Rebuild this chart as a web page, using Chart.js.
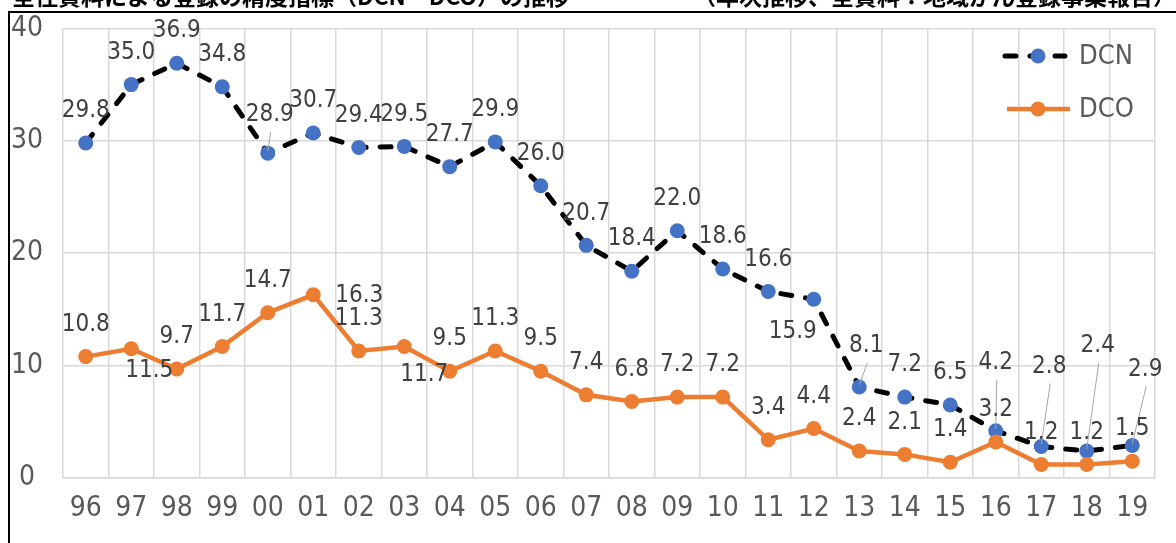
<!DOCTYPE html>
<html><head><meta charset="utf-8">
<script src="https://cdn.jsdelivr.net/npm/chart.js@4/dist/chart.umd.min.js"></script>
<style>html,body{margin:0;padding:0;background:#fff;overflow:hidden}#wrap{width:1176px;height:543px;position:relative}</style>
</head><body><div id="wrap"><canvas id="c" width="1176" height="543"></canvas></div>
<script>
// ---- data ----
const years = ['96','97','98','99','00','01','02','03','04','05','06','07','08','09','10','11','12','13','14','15','16','17','18','19'];
const dcn = [29.8,35.0,36.9,34.8,28.9,30.7,29.4,29.5,27.7,29.9,26.0,20.7,18.4,22.0,18.6,16.6,15.9,8.1,7.2,6.5,4.2,2.8,2.4,2.9];
const dco = [10.8,11.5,9.7,11.7,14.7,16.3,11.3,11.7,9.5,11.3,9.5,7.4,6.8,7.2,7.2,3.4,4.4,2.4,2.1,1.4,3.2,1.2,1.2,1.5];
const yTicks = [0,10,20,30,40];
const seriesNames = ['DCN','DCO'];
const titleLeft = '全住資料による登録の精度指標（DCN・DCO）の推移';
const titleRight = '（年次推移、全資料：地域がん登録事業報告）';

// ---- label placement (pixel shifts from the point, by category index; default above) ----
const defaultShift = [0,-33,false];
const dcnShift = {4:[2,-39,true],16:[-21,31,false],17:[7,-42,true],20:[0,-69,true],21:[8,-81,true],22:[11,-106,true],23:[13,-77,true]};
const dcoShift = {1:[18,21,false],5:[46,0,false],7:[20,27,false]};

const FONT = '"DejaVu Sans Condensed","Liberation Sans Narrow","Noto Sans",sans-serif';
const BLUE = '#4472C4', ORANGE = '#ED7D31';

const extras = {
  id:'extras',
  afterDatasetsDraw(chart){
    const ctx = chart.ctx;
    ctx.save();
    ctx.font = '24px ' + FONT;
    ctx.textAlign = 'center';
    ctx.textBaseline = 'middle';
    [[0,dcn,dcnShift],[1,dco,dcoShift]].forEach(([di,vals,shifts])=>{
      const meta = chart.getDatasetMeta(di);
      meta.data.forEach((pt,j)=>{
        const s = shifts[j] || defaultShift;
        const lx = pt.x + s[0], ly = pt.y + s[1];
        if (s[2]) {
          ctx.strokeStyle = '#a6a6a6'; ctx.lineWidth = 1;
          ctx.beginPath(); ctx.moveTo(lx+1, ly+18); ctx.lineTo(pt.x, pt.y-2); ctx.stroke();
        }
        ctx.fillStyle = '#404040';
        ctx.fillText(vals[j].toFixed(1), lx, ly+1);
      });
    });
    ctx.restore();
  },
  afterDraw(chart){
    const ctx = chart.ctx;
    ctx.save();
    // legend
    const items = [
      {name:seriesNames[0], y:56, x0:1003, x1:1067, color:'#000', width:5, dash:[11,14], dot:BLUE},
      {name:seriesNames[1], y:109, x0:1005, x1:1072, color:ORANGE, width:4.5, dash:[], dot:ORANGE}
    ];
    items.forEach(it=>{
      ctx.strokeStyle = it.color; ctx.lineWidth = it.width; ctx.setLineDash(it.dash);
      ctx.lineCap = it.dash.length ? 'round':'butt';
      ctx.beginPath(); ctx.moveTo(it.x0+2, it.y); ctx.lineTo(it.x1-2, it.y); ctx.stroke();
      ctx.setLineDash([]);
      ctx.fillStyle = it.dot; ctx.beginPath(); ctx.arc(1038, it.y, 7.5, 0, Math.PI*2); ctx.fill();
      ctx.fillStyle = '#595959'; ctx.font = '27px ' + FONT; ctx.textAlign='left'; ctx.textBaseline='middle';
      ctx.fillText(it.name, 1079, it.y+1);
    });
    // frame
    ctx.strokeStyle = '#000'; ctx.lineWidth = 2;
    ctx.beginPath(); ctx.moveTo(9,543); ctx.lineTo(9,12); ctx.lineTo(1176,12); ctx.stroke();
    // clipped title (only the lower part falls inside the picture)
    ctx.fillStyle = '#000'; ctx.font = 'bold 23px "Noto Sans CJK JP"'; ctx.textBaseline='alphabetic';
    ctx.textAlign = 'left'; ctx.fillText(titleLeft, 12, 5);
    ctx.textAlign = 'right'; ctx.fillText(titleRight, 1176, 5);
    ctx.restore();
  }
};

new Chart(document.getElementById('c'), {
  type:'line',
  data:{
    labels: years,
    datasets:[
      {label:seriesNames[0], data:dcn, borderColor:'#000', borderWidth:5, borderDash:[11,14], borderCapStyle:'round',
       pointRadius:7.5, pointBackgroundColor:BLUE, pointBorderColor:BLUE, pointBorderWidth:0, tension:0, order:1},
      {label:seriesNames[1], data:dco, borderColor:ORANGE, borderWidth:4.5,
       pointRadius:7.5, pointBackgroundColor:ORANGE, pointBorderColor:ORANGE, pointBorderWidth:0, tension:0, order:0}
    ]
  },
  options:{
    responsive:false, animation:false, devicePixelRatio:1,
    layout:{padding:{left:0,right:21,top:26,bottom:0}},
    plugins:{legend:{display:false}, tooltip:{enabled:false}},
    scales:{
      x:{offset:true, grid:{offset:true, color:'#d9d9d9', lineWidth:1.5, drawTicks:false},
         border:{display:true, color:'#d9d9d9', width:1.5},
         ticks:{font:{family:FONT,size:28}, color:'#595959', padding:14, maxRotation:0, autoSkip:false},
         afterFit(s){ s.height = 65; }},
      y:{min:0, max:40,
         afterBuildTicks(s){ s.ticks = yTicks.map(v=>({value:v})); },
         grid:{color:'#d9d9d9', lineWidth:1.5, drawTicks:false},
         border:{display:false},
         ticks:{font:{family:FONT,size:28,lineHeight:0.6}, color:'#595959', padding:20, crossAlign:'center'},
         afterFit(s){ s.width = 63; }}
    }
  },
  plugins:[extras]
});
</script></body></html>
